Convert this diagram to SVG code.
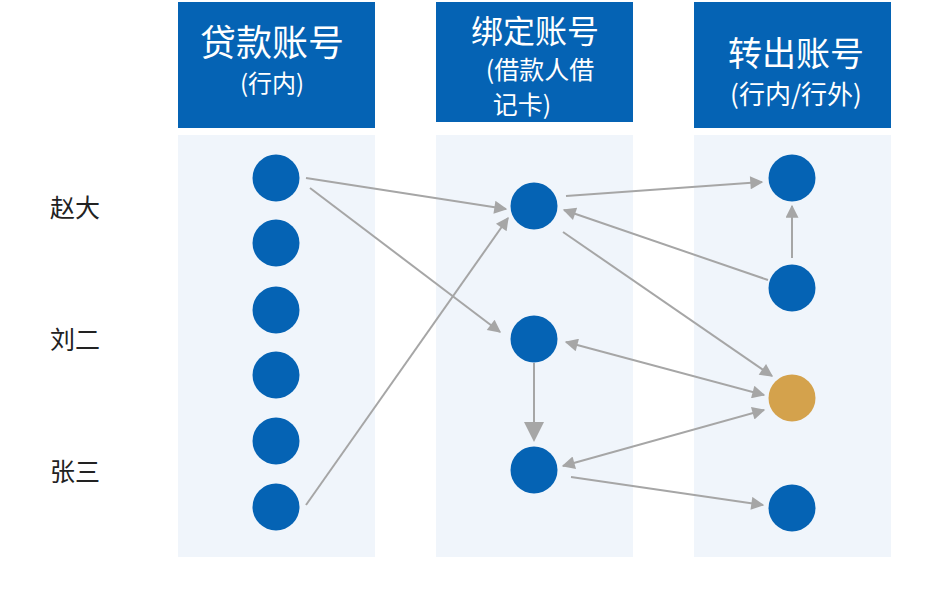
<svg xmlns="http://www.w3.org/2000/svg" width="931" height="593" viewBox="0 0 931 593">
<style>
.hd{fill:#0563b4}.pn{fill:#f0f5fb}
.t{font-family:"Noto Sans CJK SC","Liberation Sans",sans-serif;fill:#fff;text-anchor:middle}
.n{fill:#0563b4}.g{fill:#d4a24c}
.e{stroke:#a6a6a6;stroke-width:2;fill:none}
.lb{font-family:"Noto Sans CJK SC",sans-serif;font-size:25px;fill:#222}
</style>
<defs>
<marker id="a" viewBox="0 0 10 10" refX="9" refY="5" markerWidth="8" markerHeight="6.5" orient="auto-start-reverse" markerUnits="strokeWidth"><path d="M0,0L10,5L0,10z" fill="#a6a6a6"/></marker>
<marker id="b" viewBox="0 0 10 10" refX="9" refY="5" markerWidth="10" markerHeight="10" orient="auto" markerUnits="strokeWidth"><path d="M0,0L10,5L0,10z" fill="#a6a6a6"/></marker>
</defs>
<rect width="931" height="593" fill="#fff"/>
<g id="col1"><rect class="pn" x="178" y="135" width="197" height="422"/><rect class="hd" x="178" y="2" width="197" height="126"/>
<text class="t" x="272" y="56" font-size="36">贷款账号</text><text class="t" x="272" y="92" font-size="24">(行内)</text></g>
<g id="col2"><rect class="pn" x="436" y="135" width="197" height="422"/><rect class="hd" x="436" y="2" width="197" height="120"/>
<text class="t" x="535" y="43" font-size="32">绑定账号</text><text class="t" x="540" y="79" font-size="25">(借款人借</text><text class="t" x="522" y="114" font-size="25">记卡)</text></g>
<g id="col3"><rect class="pn" x="694" y="135" width="197" height="422"/><rect class="hd" x="694" y="2" width="197" height="126"/>
<text class="t" x="796" y="66" font-size="34">转出账号</text><text class="t" x="796" y="104" font-size="26">(行内/行外)</text></g>
<g id="labels"><text class="lb" x="50" y="217">赵大</text><text class="lb" x="50" y="349">刘二</text><text class="lb" x="50" y="481">张三</text></g>
<g id="a1"><circle class="n" cx="276" cy="178" r="23.5"/></g>
<g id="a2"><circle class="n" cx="276" cy="243" r="23.5"/></g>
<g id="a3"><circle class="n" cx="276" cy="310" r="23.5"/></g>
<g id="a4"><circle class="n" cx="276" cy="375" r="23.5"/></g>
<g id="a5"><circle class="n" cx="276" cy="441" r="23.5"/></g>
<g id="a6"><circle class="n" cx="276" cy="507" r="23.5"/></g>
<g id="b1"><circle class="n" cx="534" cy="206" r="23.5"/></g>
<g id="b2"><circle class="n" cx="534" cy="339" r="23.5"/></g>
<g id="b3"><circle class="n" cx="534" cy="470" r="23.5"/></g>
<g id="c1"><circle class="n" cx="792" cy="178" r="23.5"/></g>
<g id="c2"><circle class="n" cx="792" cy="288" r="23.5"/></g>
<g id="c3"><circle class="g" cx="792" cy="398" r="23.5"/></g>
<g id="c4"><circle class="n" cx="792" cy="508" r="23.5"/></g>
<g id="connectors">
<line class="e" x1="306" y1="178" x2="506" y2="209" marker-end="url(#a)"/>
<line class="e" x1="310" y1="188" x2="500" y2="332" marker-end="url(#a)"/>
<line class="e" x1="306" y1="505" x2="508" y2="218" marker-end="url(#a)"/>
<line class="e" x1="566" y1="196" x2="762" y2="182" marker-end="url(#a)"/>
<line class="e" x1="792" y1="258" x2="792" y2="206" marker-end="url(#a)"/>
<line class="e" x1="768" y1="280" x2="564" y2="210" marker-end="url(#a)"/>
<line class="e" x1="563" y1="232" x2="772" y2="376" marker-end="url(#a)"/>
<line class="e" x1="566" y1="342" x2="764" y2="395" marker-start="url(#a)" marker-end="url(#a)"/>
<line class="e" x1="534" y1="363" x2="534" y2="440" marker-end="url(#b)"/>
<line class="e" x1="563" y1="466" x2="764" y2="410" marker-start="url(#a)" marker-end="url(#a)"/>
<line class="e" x1="571" y1="477" x2="763" y2="505" marker-end="url(#a)"/>
</g>
</svg>
